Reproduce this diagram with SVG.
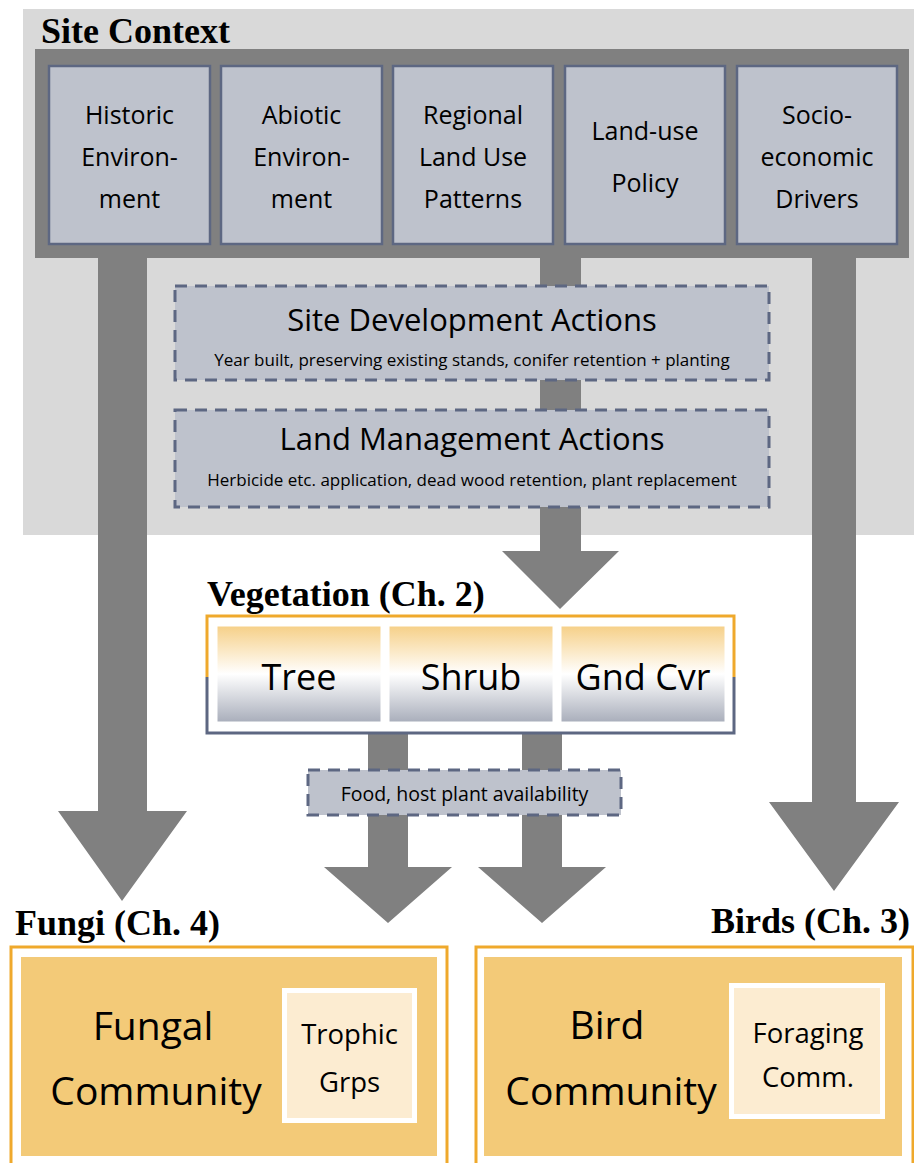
<svg xmlns="http://www.w3.org/2000/svg" width="914" height="1163" viewBox="0 0 914 1163">
<defs>
<style>
.ttl{font-family:"Liberation Serif",serif;font-weight:bold;font-size:36px;fill:#000}
.sans{font-family:"Open Sans","Liberation Sans",sans-serif;fill:#000;text-anchor:middle}
.ctx{fill:#bec2cc;stroke:#5d6782;stroke-width:2.5}
.dash{fill:#bec2cc;stroke:#5d6782;stroke-width:3;stroke-dasharray:12 8}
.arr{fill:#808080}
.cell{fill:url(#cellg);stroke:#fff;stroke-width:1}
.outer{fill:#fff;stroke:#efa92c;stroke-width:3}
.comm{fill:#f3ca78}
.sub{fill:#fcecd1;stroke:#fff;stroke-width:5}
</style>
<linearGradient id="cellg" x1="0" y1="0" x2="0" y2="1">
<stop offset="0" stop-color="#f6d088"/>
<stop offset="0.5" stop-color="#ffffff"/>
<stop offset="1" stop-color="#a9aebb"/>
</linearGradient>
<linearGradient id="vegstroke" gradientUnits="userSpaceOnUse" x1="0" y1="616" x2="0" y2="734">
<stop offset="0.52" stop-color="#efa92c"/>
<stop offset="0.52" stop-color="#5d6782"/>
</linearGradient>
</defs>

<g id="site-context">
<rect x="23" y="9" width="891" height="526" fill="#d9d9d9"/>
<rect x="35" y="49" width="874" height="209" fill="#808080"/>
<text class="ttl" x="41" y="43">Site Context</text>
</g>

<g id="connectors">
<polygon class="arr" points="98,258 147,258 147,811 187,811 122,901 58,811 98,811"/>
<polygon class="arr" points="812,258 856,258 856,802 899,802 834,891 769,802 812,802"/>
<polygon class="arr" points="540,258 581,258 581,551 619,551 560,609 502,551 540,551"/>
<polygon class="arr" points="368,733 408,733 408,867 452,867 388,923 324,867 368,867"/>
<polygon class="arr" points="522,733 562,733 562,867 606,867 542,923 478,867 522,867"/>
</g>

<g id="historic">
<rect class="ctx" x="49" y="66" width="161" height="178"/>
<text class="sans" font-size="25" x="129.5" y="124">Historic</text>
<text class="sans" font-size="25" x="129.5" y="166">Environ-</text>
<text class="sans" font-size="25" x="129.5" y="208">ment</text>
</g>
<g id="abiotic">
<rect class="ctx" x="221" y="66" width="161" height="178"/>
<text class="sans" font-size="25" x="301.5" y="124">Abiotic</text>
<text class="sans" font-size="25" x="301.5" y="166">Environ-</text>
<text class="sans" font-size="25" x="301.5" y="208">ment</text>
</g>
<g id="regional">
<rect class="ctx" x="393" y="66" width="160" height="178"/>
<text class="sans" font-size="25" x="473" y="124">Regional</text>
<text class="sans" font-size="25" x="473" y="166">Land Use</text>
<text class="sans" font-size="25" x="473" y="208">Patterns</text>
</g>
<g id="policy">
<rect class="ctx" x="565" y="66" width="160" height="178"/>
<text class="sans" font-size="25" x="645" y="140">Land-use</text>
<text class="sans" font-size="25" x="645" y="192">Policy</text>
</g>
<g id="socio">
<rect class="ctx" x="737" y="66" width="160" height="178"/>
<text class="sans" font-size="25" x="817" y="124">Socio-</text>
<text class="sans" font-size="25" x="817" y="166">economic</text>
<text class="sans" font-size="25" x="817" y="208">Drivers</text>
</g>

<g id="site-dev">
<rect class="dash" x="175" y="286" width="594" height="94"/>
<text class="sans" font-size="31" x="472" y="331">Site Development Actions</text>
<text class="sans" font-size="17" x="472" y="366">Year built, preserving existing stands, conifer retention + planting</text>
</g>
<g id="land-mgmt">
<rect class="dash" x="175" y="410" width="594" height="97"/>
<text class="sans" font-size="31" x="472" y="450">Land Management Actions</text>
<text class="sans" font-size="17" x="472" y="486">Herbicide etc. application, dead wood retention, plant replacement</text>
</g>

<g id="vegetation">
<text class="ttl" x="207" y="606">Vegetation (Ch. 2)</text>
<rect x="207" y="616" width="527" height="117" fill="#fff" stroke="url(#vegstroke)" stroke-width="3"/>
<rect class="cell" x="217" y="626" width="164" height="96"/>
<rect class="cell" x="389" y="626" width="164" height="96"/>
<rect class="cell" x="561" y="626" width="164" height="96"/>
<text class="sans" font-size="36" x="299" y="690">Tree</text>
<text class="sans" font-size="36" x="471" y="690">Shrub</text>
<text class="sans" font-size="36" x="643" y="690">Gnd Cvr</text>
</g>

<g id="food">
<rect class="dash" x="308" y="770" width="313" height="45"/>
<text class="sans" font-size="19.5" x="464.5" y="801">Food, host plant availability</text>
</g>

<g id="fungi">
<text class="ttl" x="15" y="935">Fungi (Ch. 4)</text>
<rect class="outer" x="11" y="947" width="436" height="230"/>
<rect class="comm" x="21" y="957" width="416" height="199"/>
<text class="sans" font-size="39" x="153" y="1040">Fungal</text>
<text class="sans" font-size="39" x="156" y="1105">Community</text>
<rect class="sub" x="284.5" y="990.5" width="130" height="130"/>
<text class="sans" font-size="27.5" x="349.5" y="1044">Trophic</text>
<text class="sans" font-size="27.5" x="349.5" y="1092">Grps</text>
</g>

<g id="birds">
<text class="ttl" x="910" y="933" text-anchor="end">Birds (Ch. 3)</text>
<rect class="outer" x="476" y="947" width="437" height="230"/>
<rect class="comm" x="484" y="957" width="418" height="199"/>
<text class="sans" font-size="39" x="607" y="1039">Bird</text>
<text class="sans" font-size="39" x="611" y="1105">Community</text>
<rect class="sub" x="731.5" y="985.5" width="151" height="131"/>
<text class="sans" font-size="27.5" x="808" y="1043">Foraging</text>
<text class="sans" font-size="27.5" x="808" y="1087">Comm.</text>
</g>
</svg>
